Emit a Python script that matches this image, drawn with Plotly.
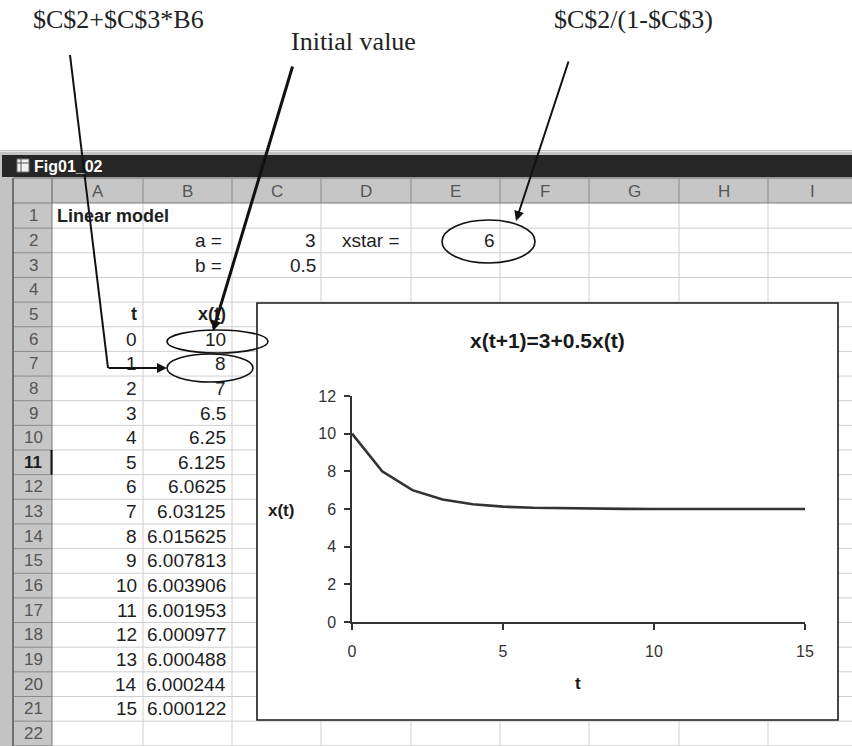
import plotly.graph_objects as go

# ---------------- data ----------------
t_values = list(range(16))
x_values = [10, 8, 7, 6.5, 6.25, 6.125, 6.0625, 6.03125, 6.015625, 6.007813,
            6.003906, 6.001953, 6.000977, 6.000488, 6.000244, 6.000122]
col_letters = ["A", "B", "C", "D", "E", "F", "G", "H", "I"]
row_numbers = list(range(1, 23))
a_value = 3
b_value = 0.5
xstar_value = 6
x_ticks = [0, 5, 10, 15]
y_ticks = [0, 2, 4, 6, 8, 10, 12]
chart_title = "x(t+1)=3+0.5x(t)"
sheet_title = "Fig01_02"
callout_texts = ["$C$2+$C$3*B6", "Initial value", "$C$2/(1-$C$3)"]

# ---------------- geometry (pixels) ----------------
W, H = 852, 746


def X(p):
    return p / W


def Y(p):
    return 1 - p / H


COL_EDGES = [52, 143, 232, 321, 411, 500, 589, 679, 768, 858]
ROW_TOP = 203.5
ROW_H = 24.65


def row_top(r):
    return ROW_TOP + (r - 1) * ROW_H


def row_mid(r):
    return row_top(r) + ROW_H / 2


def fmt(v):
    s = ("%.6f" % v).rstrip("0").rstrip(".")
    return s


shapes = []


def rect(x0, y0, x1, y1, fill=None, line=None, lw=1, layer="below"):
    shapes.append(dict(type="rect", xref="paper", yref="paper",
                       x0=X(x0), x1=X(x1), y0=Y(y1), y1=Y(y0),
                       fillcolor=fill or "rgba(0,0,0,0)",
                       line=dict(color=line or "rgba(0,0,0,0)", width=lw if line else 0),
                       layer=layer))


def seg(x0, y0, x1, y1, color, lw, layer="below"):
    shapes.append(dict(type="line", xref="paper", yref="paper",
                       x0=X(x0), y0=Y(y0), x1=X(x1), y1=Y(y1),
                       line=dict(color=color, width=lw), layer=layer))


def ellipse(x0, y0, x1, y1):
    shapes.append(dict(type="circle", xref="paper", yref="paper",
                       x0=X(x0), x1=X(x1), y0=Y(y1), y1=Y(y0),
                       line=dict(color="#111111", width=1.6), layer="above"))


annotations = []
SHEET_FONT = "Liberation Sans"
CELL_SIZE = 19


def txt(x, y, text, xanchor="right", size=CELL_SIZE, color="#1e1e1e", family=SHEET_FONT):
    annotations.append(dict(x=X(x), y=Y(y), xref="paper", yref="paper", text=text,
                            showarrow=False, xanchor=xanchor, yanchor="middle",
                            font=dict(family=family, size=size, color=color)))


def arrow(hx, hy, tx, ty, width, size):
    annotations.append(dict(x=X(hx), y=Y(hy), xref="paper", yref="paper", text="",
                            showarrow=True, ax=tx - hx, ay=ty - hy, axref="pixel", ayref="pixel",
                            arrowhead=2, arrowsize=size, arrowwidth=width, arrowcolor="#111111"))


# ---------------- window frame ----------------
rect(0, 150, 852, 746, fill="#c3c3c3")
seg(0, 151.5, 852, 151.5, "#e6e6e6", 1)
rect(2, 155, 852, 177, fill="#262626")
# title-bar icon
rect(17, 159, 29, 172, fill="#f0f0f0", line="#777777", lw=1)
seg(17, 163, 29, 163, "#555555", 1)
seg(21, 159, 21, 172, "#555555", 1)
annotations.append(dict(x=X(32), y=Y(166), xref="paper", yref="paper",
                        text="<b>" + sheet_title + "</b>", showarrow=False,
                        xanchor="left", yanchor="middle",
                        font=dict(family=SHEET_FONT, size=16, color="#ffffff")))

# headers
rect(14, 178, 852, 203, fill="#c6c6c6")
rect(14, 203, 52, 746, fill="#c6c6c6")
rect(52, 203, 852, 746, fill="#ffffff")

# cell grid
for e in COL_EDGES[1:]:
    seg(e, 203, e, 746, "#cfcfcf", 1)
for r in row_numbers:
    y = row_top(r + 1)
    seg(52, y, 852, y, "#cfcfcf", 1)

# header separators
for e in COL_EDGES:
    seg(e, 179, e, 203, "#8a8a8a", 1)
for r in row_numbers:
    y = row_top(r + 1)
    seg(14, y, 52, y, "#8a8a8a", 1)
seg(14, 203, 852, 203, "#7a7a7a", 1)
seg(52, 178, 52, 746, "#7a7a7a", 1)
seg(13, 178, 13, 746, "#555555", 1.5)
seg(14, 178, 852, 178, "#6a6a6a", 1)
# selected row 11 marker
seg(51.5, row_top(11), 51.5, row_top(12), "#111111", 2)

# column letters and row numbers
for i, c in enumerate(col_letters):
    cx = (COL_EDGES[i] + COL_EDGES[i + 1]) / 2
    if c == "I":
        cx = (COL_EDGES[i] + COL_EDGES[i] + 89.5) / 2
    txt(cx, 191, c, xanchor="center", size=17, color="#555555")
for r in row_numbers:
    label = "<b>%d</b>" % r if r == 11 else str(r)
    txt(33, row_mid(r), label, xanchor="center", size=17,
        color="#1e1e1e" if r == 11 else "#555555")

# cell contents
annotations.append(dict(x=X(55), y=Y(row_mid(1)), xref="paper", yref="paper",
                        text="<b>Linear model</b>", showarrow=False,
                        xanchor="left", yanchor="middle",
                        font=dict(family=SHEET_FONT, size=18, color="#1e1e1e")))
txt(224, row_mid(2), "a =")
txt(224, row_mid(3), "b =")
txt(318, row_mid(2), fmt(a_value))
txt(318, row_mid(3), fmt(b_value))
txt(402, row_mid(2), "xstar =")
txt(497, row_mid(2), fmt(xstar_value))
txt(139, row_mid(5), "<b>t</b>", size=18)
txt(228, row_mid(5), "<b>x(t)</b>", size=18)
for i, (t, v) in enumerate(zip(t_values, x_values)):
    r = 6 + i
    txt(139, row_mid(r), str(t))
    txt(228, row_mid(r), fmt(v))

# ---------------- embedded chart box ----------------
rect(257, 303, 838, 720, fill="#ffffff", line="#1a1a1a", lw=1.6)

txt(547, 340, "<b>" + chart_title + "</b>", xanchor="center", size=21, color="#1a1a1a")
txt(281, 510, "<b>x(t)</b>", xanchor="center", size=17, color="#1a1a1a")
txt(578, 683, "<b>t</b>", xanchor="center", size=17, color="#1a1a1a")

# ---------------- callouts ----------------
SERIF = "Liberation Serif"
txt(31, 19, callout_texts[0], xanchor="left", size=26, color="#222222", family=SERIF)
txt(289, 41, callout_texts[1], xanchor="left", size=26, color="#222222", family=SERIF)
txt(552, 19, callout_texts[2], xanchor="left", size=26, color="#222222", family=SERIF)

ellipse(442, 220, 535, 263)
ellipse(167, 330, 268, 353)
ellipse(167, 354, 253, 382)

seg(70, 55, 108, 368, "#111111", 2, layer="above")
arrow(167, 368, 107, 368, 2, 1)
arrow(213, 331, 293, 65, 3, 0.7)
arrow(516, 221, 569, 60, 2, 1)

# ---------------- figure ----------------
fig = go.Figure()
fig.add_trace(go.Scatter(x=t_values, y=x_values, mode="lines",
                         line=dict(color="#333333", width=2.6),
                         hoverinfo="skip", showlegend=False))

axis_font = dict(family=SHEET_FONT, size=16, color="#333333")
fig.update_layout(
    width=W, height=H,
    margin=dict(l=0, r=0, t=0, b=0, pad=0, autoexpand=False),
    paper_bgcolor="#ffffff",
    plot_bgcolor="rgba(0,0,0,0)",
    showlegend=False,
    xaxis=dict(domain=[X(352), X(805)], range=[0, 15], tickvals=x_ticks,
               showline=True, linecolor="#333333", linewidth=1.5,
               ticks="outside", ticklen=6, tickwidth=1.5, tickcolor="#333333",
               ticklabelstandoff=8, automargin=False,
               showgrid=False, zeroline=False, tickfont=axis_font, fixedrange=True),
    yaxis=dict(domain=[Y(622), Y(396)], range=[0, 12], tickvals=y_ticks,
               showline=True, linecolor="#333333", linewidth=1.5,
               ticks="outside", ticklen=6, tickwidth=1.5, tickcolor="#333333",
               ticklabelstandoff=5, automargin=False,
               showgrid=False, zeroline=False, tickfont=axis_font, fixedrange=True),
    shapes=shapes,
    annotations=annotations,
)

fig.write_html("out.html",
               config={"displayModeBar": False},
               post_script="document.body.style.margin='0';document.body.style.padding='0';")
